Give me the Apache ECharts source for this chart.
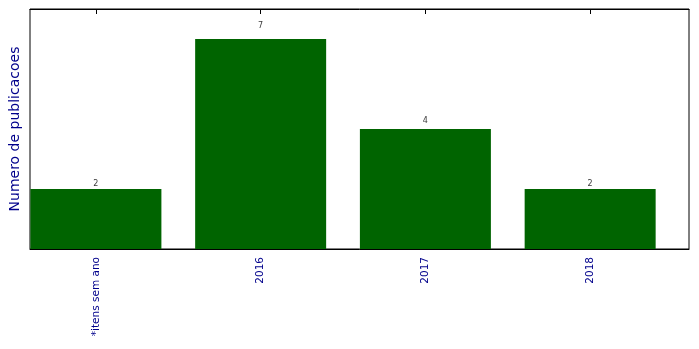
<!DOCTYPE html>
<html><head><meta charset="utf-8">
<script src="https://cdn.jsdelivr.net/npm/echarts@6/dist/echarts.min.js"></script>
<style>html,body{margin:0;padding:0;background:#fff}#c{width:699px;height:349px}</style>
</head><body><div id="c"></div>
<script>
const categories = ['*itens sem ano', '2016', '2017', '2018'];
const values = [2, 7, 4, 2];
const yMax = 8;

const idx = categories.map((_, i) => i);
const barData = values.map((v, i) => [i, v]);
const labelData = values.map((v, i) => [i, v * 1.05, v]);

const chart = echarts.init(document.getElementById('c'));
chart.setOption({
  animation: false,
  textStyle: { fontFamily: 'DejaVu Sans' },
  grid: { left: 30, right: 10, top: 9, bottom: 100, containLabel: false, outerBoundsMode: 'none',
    show: true, borderColor: '#000', borderWidth: 1, backgroundColor: 'transparent' },
  xAxis: [{
    type: 'value', min: -0.4, max: 3.6, position: 'bottom',
    splitLine: { show: false },
    axisLine: { show: true, lineStyle: { color: '#000', width: 1 } },
    axisTick: { show: true, inside: true, length: 5, customValues: idx, lineStyle: { color: '#000' } },
    axisLabel: { show: true, rotate: 90, customValues: idx, color: '#00008b', fontSize: 10.5, margin: 8,
      formatter: v => categories[Math.round(v)] }
  }, {
    type: 'value', min: -0.4, max: 3.6, position: 'top',
    splitLine: { show: false },
    axisLine: { show: true, lineStyle: { color: '#000', width: 1 } },
    axisTick: { show: true, inside: true, length: 5, customValues: idx, lineStyle: { color: '#000' } },
    axisLabel: { show: false }
  }],
  yAxis: {
    type: 'value', min: 0, max: yMax,
    splitLine: { show: false }, axisTick: { show: false }, axisLabel: { show: false },
    axisLine: { show: false },
    name: 'Numero de publicacoes', nameLocation: 'middle', nameGap: 8,
    nameTextStyle: { color: '#00008b', fontSize: 14 }
  },
  series: [{
    type: 'bar', data: barData, barWidth: 131,
    itemStyle: { color: '#006400' }
  }, {
    type: 'scatter', data: labelData, symbolSize: 0, silent: true,
    label: { show: true, position: 'top', distance: 0, offset: [0, 1.5], color: '#000', fontSize: 8,
      formatter: p => String(p.data[2]) }
  }]
});
</script></body></html>
